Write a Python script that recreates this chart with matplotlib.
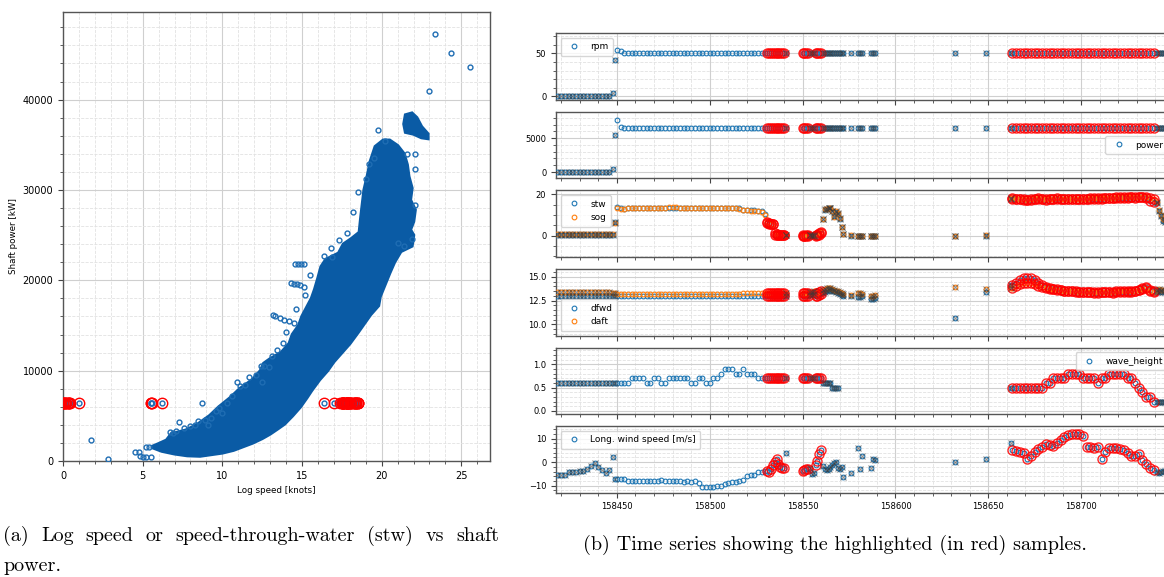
import numpy as np
import matplotlib
matplotlib.use('Agg')
import matplotlib.pyplot as plt
from matplotlib.ticker import AutoMinorLocator, MultipleLocator

BLUE = '#1f77b4'
ORANGE = '#ff7f0e'
CLOUD = '#0a5ba5'
W, H = 1164, 577

# ---------------- (a) log speed vs shaft power ----------------
# outline of the dense cloud of samples (knots, kW)
cloud_speed = [5.6, 6.2, 7.0, 7.8, 8.6, 9.2, 10.0, 10.7, 11.3, 11.9, 12.5, 13.0, 13.5, 13.9, 14.4,
               14.9, 15.3, 15.6, 16.1, 16.6, 17.0, 17.5, 18.0, 18.5, 18.9, 19.3, 19.8, 19.9, 20.2,
               20.5, 20.8, 21.2, 21.9, 22.0, 21.8, 22.0, 22.1, 21.8, 21.9, 21.7, 21.6, 21.4, 21.0,
               20.5, 20.1,
               19.6, 19.3, 19.1, 18.9, 18.8, 18.7, 18.6, 18.1, 17.6, 17.3, 16.5, 16.2, 16.0, 15.8,
               15.6, 15.3, 15.0, 14.8, 14.4, 14.2, 13.7, 13.0, 12.6, 12.4, 11.9, 11.1, 10.5, 9.8,
               9.2, 8.4, 7.7, 6.8, 6.5, 6.0, 5.6]
cloud_power = [1500, 1100, 800, 600, 550, 700, 900, 1200, 1600, 2000, 2500, 3000, 3600, 4100, 5000,
               6000, 7000, 7800, 9000, 10000, 11000, 12000, 13000, 14200, 15200, 16200, 17200, 18200,
               19500, 20800, 22000, 23200, 23800, 25000, 25600, 26500, 27800, 28900, 30200, 31500,
               32800, 34000, 34900, 35500, 35500,
               34800, 33200, 31500, 30000, 28500, 27000, 25300, 24600, 24000, 23000, 22300, 21500,
               20200, 19000, 18000, 17000, 16000, 15000, 14000, 13000, 12000, 11300, 10800, 10000,
               9000, 8000, 7000, 6000, 5000, 4000, 3400, 3000, 2300, 1900, 1600]
# separate group of samples at the top of the range
top_speed = [21.4, 21.5, 21.9, 22.2, 22.5, 22.9, 22.9, 22.5, 22.0, 21.5]
top_power = [37300, 38300, 38500, 38000, 37000, 36200, 35700, 35800, 36200, 36400]
# single samples and short streaks around the cloud
stray_speed = [1.75, 2.8, 4.55, 4.8, 4.85, 5.0, 5.2, 5.5, 5.2, 5.4, 8.7, 7.3, 8.3, 8.5, 9.1, 9.6,
               10.0, 10.9, 11.1, 12.5, 12.4, 12.6, 12.9, 13.1, 13.2, 13.3, 13.6, 13.9, 14.2, 14.5,
               14.3, 14.5, 14.7, 14.9, 15.1, 14.55, 14.75, 14.95, 15.15, 16.9, 17.3, 19.8, 20.2,
               21.6, 22.1, 22.1, 22.1, 21.0, 21.4, 22.95, 23.35, 24.35, 25.55, 19.5,
               6.7, 6.9, 7.1, 7.6, 8.0, 8.9, 9.3, 9.8, 10.3, 10.6, 11.4, 11.7, 12.1, 13.4, 13.8,
               14.0, 14.6, 15.2, 15.5, 16.4, 16.8, 17.8, 18.2, 18.5, 19.0, 19.2, 21.9]
stray_power = [2300, 250, 1000, 1000, 600, 450, 450, 450, 1600, 1500, 6400, 4300, 4000, 4400,
               4000, 5500, 5300, 8700, 8300, 8700, 10500, 10500, 10400, 11600, 16200, 16100,
               15800, 15600, 15500, 15300, 19700, 19600, 19600, 19500, 19300, 21800, 21800,
               21800, 21800, 22600, 24500, 36600, 35400, 34000, 34000, 32300, 28300, 24100,
               23800, 41000, 47300, 45200, 43600, 33500,
               3200, 3100, 3300, 3600, 3900, 4500, 4800, 5900, 6400, 7200, 8400, 9300, 9500,
               12300, 13100, 14300, 16800, 18400, 20600, 22700, 23600, 25200, 27600, 29800,
               31200, 32900, 24600]

# ---------------- (b) time series ----------------
t_rest = list(range(158418, 158449, 2)) + [158449]
t_cruise = list(range(158450, 158531, 2))
t_red1 = list(range(158531, 158541))
t_gap1 = [158541]
t_red2a = list(range(158550, 158554))
t_gap2 = [158554, 158555, 158556]
t_red2b = list(range(158557, 158561))
t_manoeuvre = list(range(158561, 158573))
t_isolated = [158576, 158580, 158581, 158582, 158587, 158588, 158589, 158632, 158649, 158662]
t_red3 = list(range(158663, 158740, 2))
t_tail = list(range(158741, 158746))

segments = [(t_rest, 'x'), (t_cruise, 'plain'), (t_red1, 'red'), (t_gap1, 'x'), (t_red2a, 'red'),
            (t_gap2, 'x'), (t_red2b, 'red'), (t_manoeuvre, 'x'), (t_isolated, 'x'),
            (t_red3, 'red'), (t_tail, 'x')]

rpm = [0] * 15 + [4, 42] + [54, 53] + [51] * 39 + [51] * 88
power = [0] * 15 + [500, 5500] + [7700, 6700, 6500, 6550, 6450] + [6420] * 36 + [6420] * 88

stw = ([0.2] * 16 + [6.4]
       + [13.8, 13.2, 13.1, 13.2, 13.2, 13.2, 13.3, 13.3, 13.3, 13.4, 13.4, 13.4, 13.5, 13.5, 13.5, 13.6, 13.6,
          13.6, 13.5, 13.5, 13.5, 13.4, 13.4, 13.4, 13.4, 13.4, 13.4, 13.3, 13.3, 13.3, 13.3, 13.3, 13.3, 13.2,
          12.3, 12.2, 12.2, 12.2, 12.1, 11.8, 10.5]
       + [6.2, 5.6, 5.5, 5.5, 0.45, 0.35, 0.3, 0.2, 0.4, 0.1]
       + [0.2]
       + [0.0, -0.1, 0.1, 0.0]
       + [0.1, 0.0, 0.1]
       + [0.0, 0.1, 0.3, 1.0]
       + [8.0, 12.5, 12.8, 13.2, 13.5, 12.0, 9.5, 11.5, 10.5, 8.0, 4.0, 0.5]
       + [0.0, -0.2, -0.3, -0.2, -0.3, -0.3, -0.2, -0.2, 0.0, 18.0]
       + [18.0, 17.8, 17.6, 17.5, 17.4, 17.5, 17.8, 18.0, 17.7, 17.5, 17.6, 17.8, 17.9, 17.8, 17.6, 17.6,
          17.7, 17.8, 17.7, 17.6, 17.8, 17.9, 18.0, 17.9, 18.0, 18.1, 18.2, 18.2, 18.3, 18.3, 18.4, 18.4,
          18.5, 18.4, 18.5, 18.5, 18.3, 17.0, 16.4]
       + [16.0, 12.0, 9.5, 7.0, 6.5])
sog = ([0.8] * 16 + [6.2]
       + [13.5, 13.0, 13.1, 13.2, 13.3, 13.3, 13.3, 13.4, 13.4, 13.5, 13.5, 13.6, 13.6, 13.6, 13.7, 13.7, 13.7,
          13.6, 13.6, 13.6, 13.5, 13.5, 13.5, 13.5, 13.4, 13.4, 13.4, 13.4, 13.3, 13.3, 13.3, 13.2, 13.2, 13.1,
          12.2, 12.2, 12.1, 12.1, 12.0, 11.5, 9.8]
       + [6.5, 5.9, 5.8, 5.6, 1.2, 0.6, 0.4, 0.3, 0.3, 0.3]
       + [0.3]
       + [0.1, 0.0, 0.0, 0.1]
       + [0.1, 0.1, 0.0]
       + [0.1, 0.4, 1.0, 1.8]
       + [8.2, 12.7, 13.0, 13.4, 13.6, 11.8, 9.0, 11.8, 10.8, 8.5, 4.3, 0.8]
       + [0.1, 0.0, -0.1, 0.0, -0.1, -0.2, -0.1, 0.0, 0.1, 18.2]
       + [18.3, 18.0, 17.8, 17.6, 17.5, 17.7, 18.0, 18.2, 17.9, 17.7, 17.8, 18.0, 18.1, 18.0, 17.8, 17.8,
          17.9, 18.0, 17.9, 17.8, 18.0, 18.1, 18.2, 18.1, 18.2, 18.3, 18.4, 18.4, 18.5, 18.5, 18.6, 18.7,
          18.8, 18.7, 18.8, 18.9, 18.8, 18.4, 17.9]
       + [16.5, 12.5, 10.0, 8.0, 7.5])

dfwd = ([13.0] * 73
        + [13.1, 13.1, 13.2]
        + [13.0, 13.0, 13.1, 13.2]
        + [13.3, 13.4, 13.5, 13.6, 13.6, 13.5, 13.5, 13.4, 13.3, 13.2, 13.1, 13.0]
        + [13.0, 12.9, 12.9, 13.0, 12.7, 12.7, 12.75, 10.7, 13.4, 14.1]
        + [14.1, 14.4, 14.7, 14.85, 14.9, 14.85, 14.7, 14.4, 14.1, 13.9, 13.8, 13.75, 13.7, 13.6, 13.55,
           13.5, 13.5, 13.45, 13.4, 13.4, 13.4, 13.4, 13.35, 13.35, 13.4, 13.4, 13.4, 13.35, 13.4, 13.4,
           13.4, 13.45, 13.45, 13.5, 13.6, 13.85, 13.9, 13.6, 13.5]
        + [13.4, 13.4, 13.5, 13.4, 13.4])
daft = ([13.45] * 15 + [13.35, 13.25] + [13.2] * 34 + [13.3] * 7 + [13.35] * 15
        + [13.4, 13.4, 13.5]
        + [13.35, 13.35, 13.4, 13.5]
        + [13.6, 13.7, 13.8, 13.85, 13.8, 13.7, 13.6, 13.5, 13.5, 13.4, 13.3, 13.2]
        + [13.1, 13.3, 13.3, 13.2, 13.0, 13.0, 13.05, 13.95, 13.75, 13.8]
        + [13.8, 14.0, 14.2, 14.35, 14.4, 14.35, 14.2, 14.0, 13.9, 13.8, 13.7, 13.7, 13.65, 13.6, 13.55,
           13.5, 13.5, 13.5, 13.45, 13.45, 13.45, 13.45, 13.45, 13.45, 13.45, 13.45, 13.45, 13.45, 13.5,
           13.5, 13.5, 13.5, 13.55, 13.55, 13.6, 13.75, 13.8, 13.55, 13.45]
        + [13.6, 13.7, 13.6, 13.6, 13.6])

nan = float('nan')
wave_height = ([0.6] * 17
               + [0.6] * 4 + [0.7] * 4 + [0.6] * 2 + [0.7] * 2 + [0.6] * 2 + [0.7] * 6 + [0.6] * 2
               + [0.7] * 2 + [0.6] * 2 + [0.7] * 2 + [0.8] + [0.9] * 3 + [0.8] * 2 + [0.9] + [0.8] * 3
               + [0.7] * 3
               + [0.7] * 22
               + [0.6] * 5 + [0.5] * 4 + [nan] * 3
               + [nan] * 9 + [0.5]
               + [0.5] * 9 + [0.6] * 2 + [0.7] * 4 + [0.8] * 4 + [0.7] * 4 + [0.6] + [0.7] * 2 + [0.8] * 5
               + [0.7] * 2 + [0.6, 0.5, 0.4, 0.3, 0.3, 0.2]
               + [0.2] * 5)

wind = ([-5.5, -5.5, -5.3, -4.0, -4.2, -4.0, -3.6, -3.8, -3.0, -1.8, -0.3, -2.2, -3.5, -4.5, -3.5, 2.0, -7.0]
        + [-7.1, -7.2, -7.3, -7.8, -8.0,
           -8.0, -8.1, -8.0, -7.9, -8.0, -8.0, -7.8, -7.7, -7.8, -8.0, -8.1, -8.0, -8.2, -8.3, -8.0, -8.4,
           -8.2, -9.0, -10.5, -10.6, -10.5, -10.5, -10.2, -10.0, -9.3, -9.0, -8.5, -8.3, -8.0, -7.5, -5.8,
           -5.5, -5.6, -4.2, -4.0, -3.8]
        + [-3.7, -4.2, -3.0, -1.0, 0.0, 1.3, -0.8, -2.0, -2.3, -2.4]
        + [4.0]
        + [-3.7, -3.4, -3.0, -2.7]
        + [-2.5, -5.0, -4.5]
        + [-1.0, 0.5, 3.5, 5.3]
        + [-1.5, -3.0, -3.2, -3.0, -2.0, -1.0, -0.5, 0.0, -2.5, -3.0, -2.0, -6.5]
        + [-4.5, 6.0, -3.0, 2.5, -2.5, 1.5, 1.0, 0.0, 1.5, 8.0]
        + [5.0, 4.8, 4.5, 3.8, 1.5, 2.8, 4.2, 5.5, 6.5, 7.7, 7.2, 7.0, 8.0, 9.5, 10.8, 11.5, 11.8, 12.0,
           11.8, 11.2, 6.5, 6.3, 6.2, 6.5, 1.5, 4.5, 5.8, 6.2, 6.0, 5.7, 5.0, 4.0, 2.8, 2.8, 3.3, 1.0,
           -0.8, -2.5, -3.5]
        + [-4.2, -4.5, -4.0, -3.8, -3.6])

time = np.array([t for seg, _ in segments for t in seg])
kind = np.array([k for seg, k in segments for _ in seg])
for name, s in [('rpm', rpm), ('power', power), ('stw', stw), ('sog', sog), ('dfwd', dfwd),
                ('daft', daft), ('wave', wave_height), ('wind', wind)]:
    assert len(s) == len(time), (name, len(s), len(time))


def style_axes(ax, labelsize):
    ax.minorticks_on()
    ax.grid(which='major', color='#cfcfcf', lw=0.8)
    ax.grid(which='minor', color='#e2e2e2', lw=0.6, ls='--')
    ax.set_axisbelow(True)
    for sp in ax.spines.values():
        sp.set_color('#555555')
        sp.set_linewidth(1.0)
    ax.tick_params(which='major', labelsize=labelsize, length=3.5, color='#444444')
    ax.tick_params(which='minor', length=2, color='#444444')


def plot_series(ax, values, color, label):
    v = np.asarray(values, dtype=float)
    ax.plot(time, v, 'o', ms=3.4, mfc='none', mec=color, mew=0.8, label=label, zorder=3)
    hl = kind == 'red'
    ax.plot(time[hl], v[hl], 'o', ms=6.5, mfc='none', mec='red', mew=1.0, alpha=0.85, zorder=4)
    xm = kind == 'x'
    ax.plot(time[xm], v[xm], 'x', ms=4, color='#3a3a3a', mew=0.8, alpha=0.55, zorder=5)


fig = plt.figure(figsize=(W / 100, H / 100), dpi=100)

# ---- left panel
ax = fig.add_axes([63 / W, 1 - 461 / H, 427 / W, 449 / H])
style_axes(ax, 7)
ax.fill(cloud_speed, cloud_power, color=CLOUD, lw=2.5, ec=CLOUD, zorder=2)
ax.fill(top_speed, top_power, color=CLOUD, lw=2.5, ec=CLOUD, zorder=2)
ax.plot(stray_speed, stray_power, 'o', ms=3.5, mfc='none', mec='#1f6db3', mew=1.0, zorder=3)
hl = kind == 'red'
hl_speed = np.asarray(stw, float)[hl]
hl_power = np.asarray(power, float)[hl]
ax.plot(hl_speed, hl_power, 'o', ms=3.5, mfc='none', mec='#1f6db3', mew=1.0, zorder=3)
ax.plot(hl_speed, hl_power, 'o', ms=7.5, mfc='none', mec='red', mew=1.0, zorder=4)
ax.set_xlim(0, 26.8)
ax.set_ylim(0, 49700)
ax.xaxis.set_major_locator(MultipleLocator(5))
ax.xaxis.set_minor_locator(MultipleLocator(1))
ax.yaxis.set_major_locator(MultipleLocator(10000))
ax.yaxis.set_minor_locator(MultipleLocator(2000))
ax.set_xlabel('Log speed [knots]', fontsize=6.3, labelpad=4)
ax.set_ylabel('Shaft power [kW]', fontsize=6.3, labelpad=3)

# ---- right panels
panels = [
    ([(rpm, BLUE, 'rpm')], (-3.9, 73.4), 50, 5, 'upper left'),
    ([(power, BLUE, 'power')], (-926, 8868), 5000, 5, 'center right'),
    ([(stw, BLUE, 'stw'), (sog, ORANGE, 'sog')], (-10.4, 21.9), 20, 4, 'upper left'),
    ([(dfwd, BLUE, 'dfwd'), (daft, ORANGE, 'daft')], (8.84, 15.81), 2.5, 5, 'lower left'),
    ([(wave_height, BLUE, 'wave_height')], (-0.07, 1.355), 0.5, 5, 'upper right'),
    ([(wind, BLUE, 'Long. wind speed [m/s]')], (-12.95, 15.2), 10, 5, 'upper left'),
]
left, right = 556 / W, 1172 / W
first = None
for i, (series, ylim, major, nminor, loc) in enumerate(panels):
    top = 33.3 + 78.6 * i
    ax = fig.add_axes([left, 1 - (top + 66.4) / H, right - left, 66.4 / H], sharex=first)
    if first is None:
        first = ax
    style_axes(ax, 6)
    for values, color, label in series:
        plot_series(ax, values, color, label)
    ax.set_ylim(*ylim)
    ax.yaxis.set_major_locator(MultipleLocator(major))
    ax.yaxis.set_minor_locator(AutoMinorLocator(nminor))
    ax.xaxis.set_major_locator(MultipleLocator(50))
    ax.xaxis.set_minor_locator(AutoMinorLocator(5))
    ax.ticklabel_format(axis='x', useOffset=False, style='plain')
    if i < len(panels) - 1:
        ax.tick_params(labelbottom=False)
    ax.legend(loc=loc, fontsize=6.5, framealpha=0.8, edgecolor='#cccccc', borderpad=0.5)
first.set_xlim(158417.2, 158748.9)

# ---- captions
renderer = fig.canvas.get_renderer()
cap_font = dict(family='cmr10', fontsize=14.5, va='baseline')
words = ['(a)', 'Log', 'speed', 'or', 'speed-through-water', '(stw)', 'vs', 'shaft']
texts = [fig.text(0, 1 - 541 / H, w, **cap_font) for w in words]
widths = [t.get_window_extent(renderer).width for t in texts]
gap = (499 - 3 - sum(widths)) / (len(words) - 1)
x = 3
for t, w in zip(texts, widths):
    t.set_x(x / W)
    x += w + gap
fig.text(3 / W, 1 - 571 / H, 'power.', **cap_font)
fig.text(583 / W, 1 - 550 / H, '(b) Time series showing the highlighted (in red) samples.', **cap_font)

fig.savefig('out.png', dpi=100)
